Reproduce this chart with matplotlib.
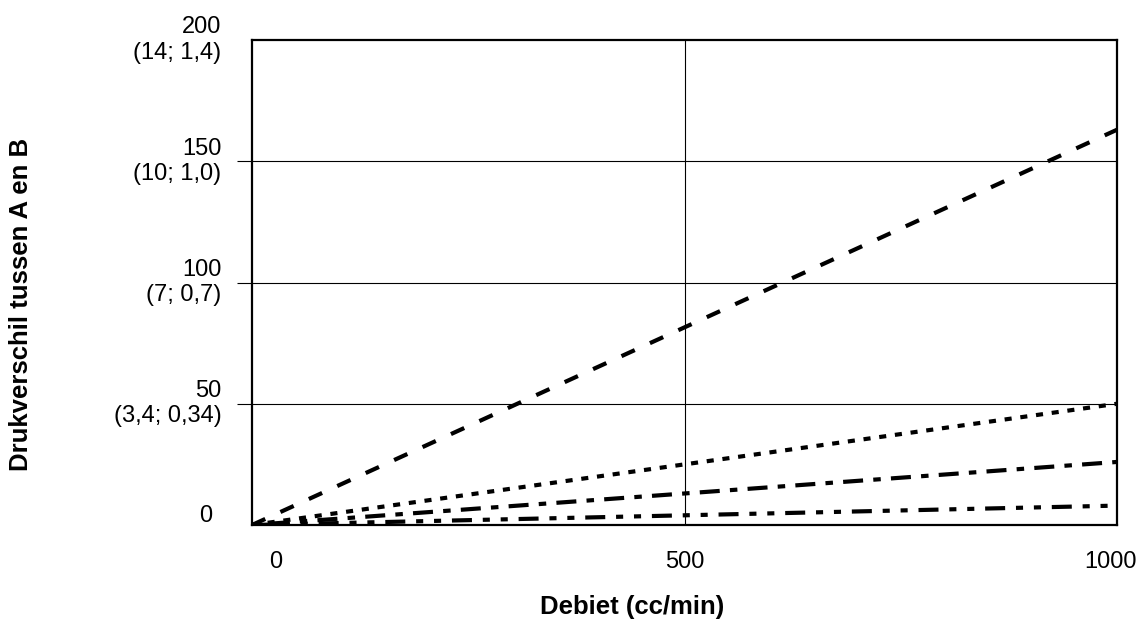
import matplotlib
matplotlib.use("Agg")
import matplotlib.pyplot as plt
import matplotlib.transforms as mtransforms

plt.rcParams['font.family'] = ['Liberation Sans', 'DejaVu Sans']

# debiet (cc/min) and pressure difference per line
debiet = [0, 1000]
drukval_dashed = [0, 163]
drukval_dotted = [0, 50]
drukval_dashdot = [0, 26]
drukval_dashdotdot = [0, 8]

y_ticks = [0, 50, 100, 150, 200]
y_labels = ['0', '50\n(3,4; 0,34)', '100\n(7; 0,7)', '150\n(10; 1,0)', '200\n(14; 1,4)']
x_ticks = [0, 500, 1000]
x_labels = ['0', '500', '1000']

fig = plt.figure(figsize=(11.4, 6.23), dpi=100)
ax = fig.add_axes([252/1140, 1 - 525/623, 865/1140, 485/623])

lw = 3
ax.plot(debiet, drukval_dashed, color='black', lw=lw, dashes=(3.5, 4.0))
ax.plot(debiet, drukval_dotted, color='black', lw=lw, dashes=(1.7, 2.1))
ax.plot(debiet, drukval_dashdot, color='black', lw=lw, dashes=(1.8, 2.45, 4.8, 2.45))
ax.plot(debiet, drukval_dashdotdot, color='black', lw=lw,
        dashes=(4.8, 2.6, 1.7, 2.6, 1.7, 2.6))

ax.set_xlim(0, 1000)
ax.set_ylim(0, 200)

# grid lines
for v in [50, 100, 150]:
    ax.axhline(v, color='black', lw=0.8, zorder=0)
ax.axvline(500, color='black', lw=0.8, zorder=0)

for s in ax.spines.values():
    s.set_linewidth(1.6)

ax.set_yticks(y_ticks)
ax.set_yticklabels(y_labels, fontsize=17, va='center', ha='right')
ax.set_xticks(x_ticks)
ax.set_xticklabels(x_labels, fontsize=17)
ax.tick_params(axis='y', length=11, width=0.8, pad=11, direction='out')
ax.tick_params(axis='x', length=0, pad=19)

yt = ax.yaxis.get_major_ticks()
yt[0].tick1line.set_visible(False)
yt[-1].tick1line.set_visible(False)

# small offsets of some labels as in the reference
def shift(lab, dx, dy):
    lab.set_transform(lab.get_transform() +
                      mtransforms.ScaledTranslation(dx/100, dy/100, fig.dpi_scale_trans))

shift(ax.get_yticklabels()[0], -9, 9)
shift(ax.get_xticklabels()[0], 24, 0)
shift(ax.get_xticklabels()[-1], -6, 0)

ax.set_xlabel('Debiet (cc/min)', fontsize=18.5, fontweight='bold')
ax.set_ylabel('Drukverschil tussen A en B', fontsize=18.5, fontweight='bold')
ax.xaxis.set_label_coords(0.44, -0.144)
ax.yaxis.set_label_coords(-0.253, 0.454)

fig.savefig('out.png', dpi=100)
